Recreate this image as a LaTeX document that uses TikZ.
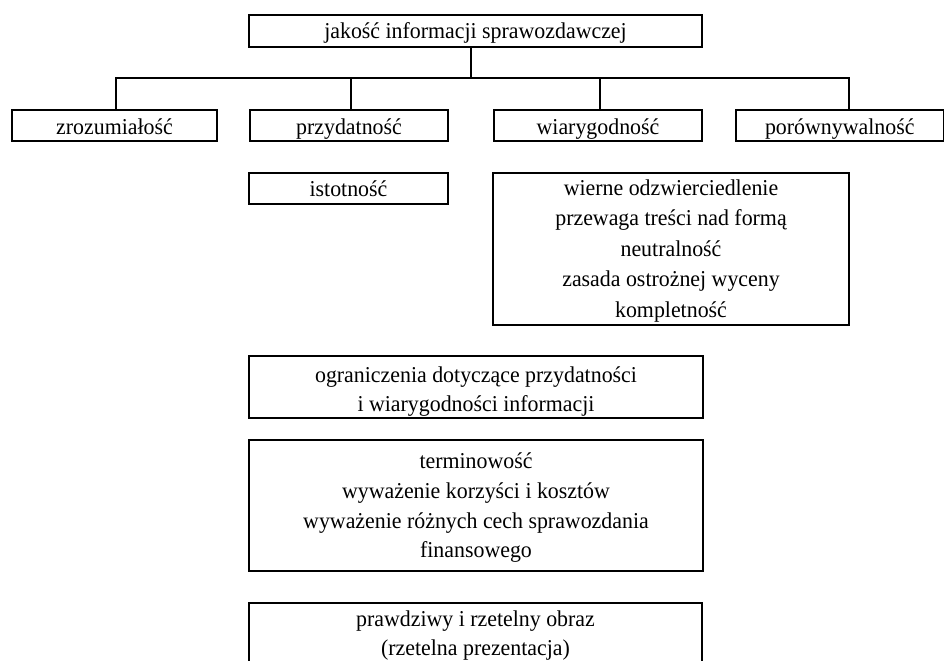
\documentclass[tikz,border=0pt]{standalone}
\usepackage{fontspec}
\setmainfont{Liberation Serif}[FakeStretch=0.965]
\begin{document}
\begin{tikzpicture}[x=0.75pt,y=-0.75pt,
  box/.style={draw=black, line width=1.1pt, inner sep=0pt, outer sep=0pt},
  txt/.style={anchor=base, inner sep=0pt, font=\fontsize{17}{22.5}\selectfont},
  conn/.style={draw=black, line width=1.1pt}]
\useasboundingbox (0,0) rectangle (945,660);
\clip (0,0) rectangle (945,660);
% boxes
\node[box, minimum width=339.75pt, minimum height=24pt] (top) at (475.5,31) {};
\node[box, minimum width=153.75pt, minimum height=23.25pt] (zroz) at (114.5,125.5) {};
\node[box, minimum width=148.5pt, minimum height=23.25pt] (przyd) at (349,125.5) {};
\node[box, minimum width=156pt, minimum height=23.25pt] (wiar) at (598,125.5) {};
\node[box, minimum width=155.6pt, minimum height=23.25pt] (poro) at (839.75,125.5) {};
\node[box, minimum width=149.25pt, minimum height=23.25pt] (istot) at (348.5,188.5) {};
\node[box, minimum width=267pt, minimum height=114pt] (detail) at (671,249) {};
\node[box, minimum width=340.5pt, minimum height=46.5pt] (ogr) at (476,387) {};
\node[box, minimum width=340.5pt, minimum height=98.25pt] (term) at (476,505.5) {};
\node[box, minimum width=339.75pt, minimum height=72.75pt] (final) at (475.5,651.5) {};
% texts
\node[txt] (ttop) at (475.5,39) {jakość informacji sprawozdawczej};
\node[txt] (tzroz) at (114.5,134) {zrozumiałość};
\node[txt] (tprzyd) at (349,134) {przydatność};
\node[txt] (twiar) at (598,134) {wiarygodność};
\node[txt] (tporo) at (839.75,134) {porównywalność};
\node[txt] (tistot) at (348.5,196) {istotność};
\node[txt] (td1) at (671,195) {wierne odzwierciedlenie};
\node[txt] (td2) at (671,225.5) {przewaga treści nad formą};
\node[txt] (td3) at (671,256) {neutralność};
\node[txt] (td4) at (671,286.5) {zasada ostrożnej wyceny};
\node[txt] (td5) at (671,317) {kompletność};
\node[txt] (to1) at (476,382) {ograniczenia dotyczące przydatności};
\node[txt] (to2) at (476,411) {i wiarygodności informacji};
\node[txt] (tt1) at (476,468) {terminowość};
\node[txt] (tt2) at (476,498) {wyważenie korzyści i kosztów};
\node[txt] (tt3) at (476,528) {wyważenie różnych cech sprawozdania};
\node[txt] (tt4) at (476,557) {finansowego};
\node[txt] (tf1) at (475.5,626) {prawdziwy i rzetelny obraz};
\node[txt] (tf2) at (475.5,655) {(rzetelna prezentacja)};
% connectors
\coordinate (b0) at (471,78);
\coordinate (b1) at (116,78);
\coordinate (b2) at (351,78);
\coordinate (b3) at (600,78);
\coordinate (b4) at (849,78);
\draw[conn] (top.south -| b0) -- (b0);
\draw[conn] (b1 |- zroz.north) -- (b1) -- (b4) -- (b4 |- poro.north);
\draw[conn] (b2) -- (b2 |- przyd.north);
\draw[conn] (b3) -- (b3 |- wiar.north);
\end{tikzpicture}
\end{document}
